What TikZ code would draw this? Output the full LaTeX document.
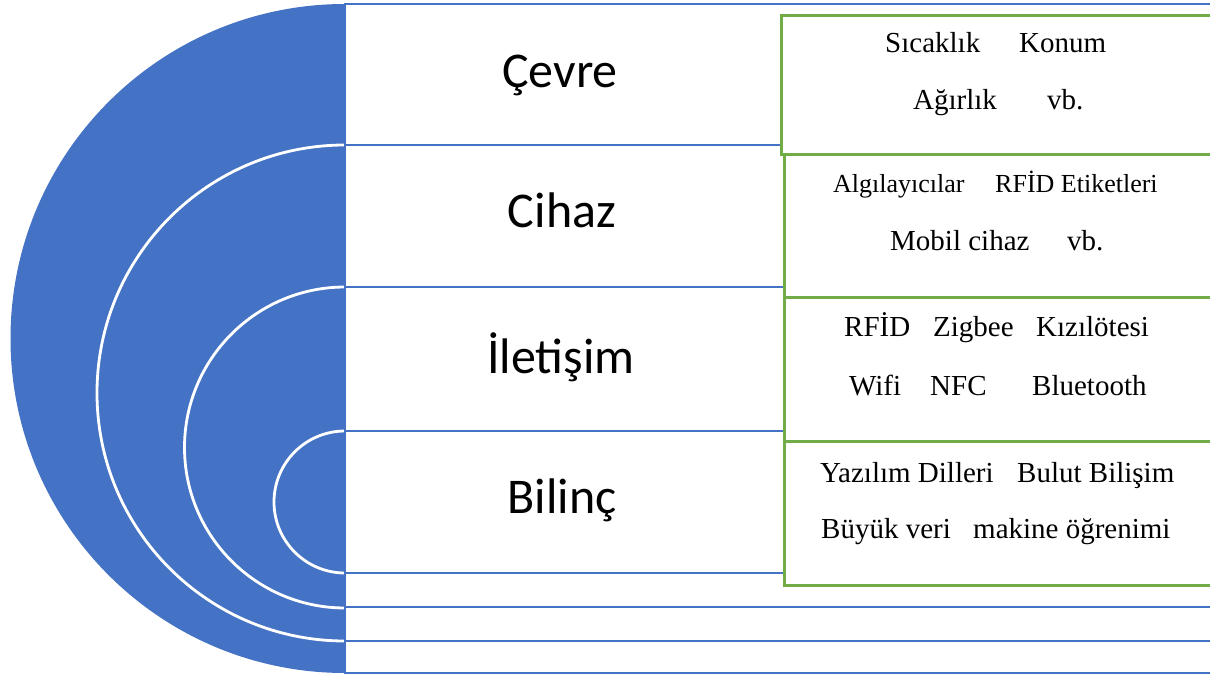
\documentclass[tikz,border=0pt]{standalone}
\usepackage{fontspec}
\setmainfont{Liberation Serif}
\newfontfamily\labelfont{Carlito}
\definecolor{ringblue}{HTML}{4472C4}
\definecolor{boxgreen}{HTML}{70AD47}

\begin{document}
\begin{tikzpicture}[x=1pt,y=-1pt,
  band/.style={draw=ringblue, line width=2.8pt},
  ring/.style={draw=white, line width=2.8pt},
  detail/.style={draw=boxgreen, line width=2.8pt, fill=white, rectangle,
    anchor=north west, inner sep=0pt},
  layer/.style={font=\labelfont\fontsize{50}{50}\selectfont, anchor=base, inner sep=0pt},
  item/.style={font=\fontsize{29}{29}\selectfont, anchor=base west, inner sep=0pt},
  itemsmall/.style={item, font=\fontsize{26}{26}\selectfont},
]
\useasboundingbox (0,0) rectangle (1210,676);

% half disc with the nested rings
\begin{scope}
  \clip (0,0) rectangle (344,676);
  \fill[ringblue] (345,338.5) circle[radius=334.5];
  \draw[ring] (345,393) circle[radius=248];
  \draw[ring] (345,447.5) circle[radius=160.5];
  \draw[ring] (345,502) circle[radius=71];
\end{scope}

% horizontal bands
\foreach \t/\b in {4/145,145/287,287/431,431/573,573/607,607/641,641/673}
  \draw[band] (345,\t) rectangle (1216,\b);

% layer names
\node[layer] (cevre)    at (560,88)  {Çevre};
\node[layer] (cihaz)    at (562,228) {Cihaz};
\node[layer] (iletisim) at (561,373) {İletişim};
\node[layer] (bilinc)   at (562,513) {Bilinç};

% detail boxes
\node[detail, minimum width=436pt, minimum height=139pt] (b1) at (780,14)  {};
\node[detail, minimum width=433pt, minimum height=143pt] (b2) at (783,153) {};
\node[detail, minimum width=433pt, minimum height=144pt] (b3) at (783,296) {};
\node[detail, minimum width=433pt, minimum height=144pt] (b4) at (783,440) {};

% box contents
\node[item] (t11) at (885,53)  {Sıcaklık};
\node[item] (t12) at (1019,53) {Konum};
\node[item] (t13) at (913,110) {Ağırlık};
\node[item] (t14) at (1047,110) {vb.};

\node[itemsmall] (t21) at (833,193) {Algılayıcılar};
\node[itemsmall] (t22) at (995,193) {RFİD Etiketleri};
\node[item] (t23) at (890,251)  {Mobil cihaz};
\node[item] (t24) at (1067,251) {vb.};

\node[item] (t31) at (844,337)  {RFİD};
\node[item] (t32) at (933,337)  {Zigbee};
\node[item] (t33) at (1036,337) {Kızılötesi};
\node[item] (t34) at (849,395)  {Wifi};
\node[item] (t35) at (930,395)  {NFC};
\node[item] (t36) at (1032,395) {Bluetooth};

\node[item] (t41) at (820,482)  {Yazılım Dilleri};
\node[item] (t42) at (1017,482) {Bulut Bilişim};
\node[item] (t43) at (821,538)  {Büyük veri};
\node[item] (t44) at (973,538)  {makine öğrenimi};
\end{tikzpicture}
\end{document}
